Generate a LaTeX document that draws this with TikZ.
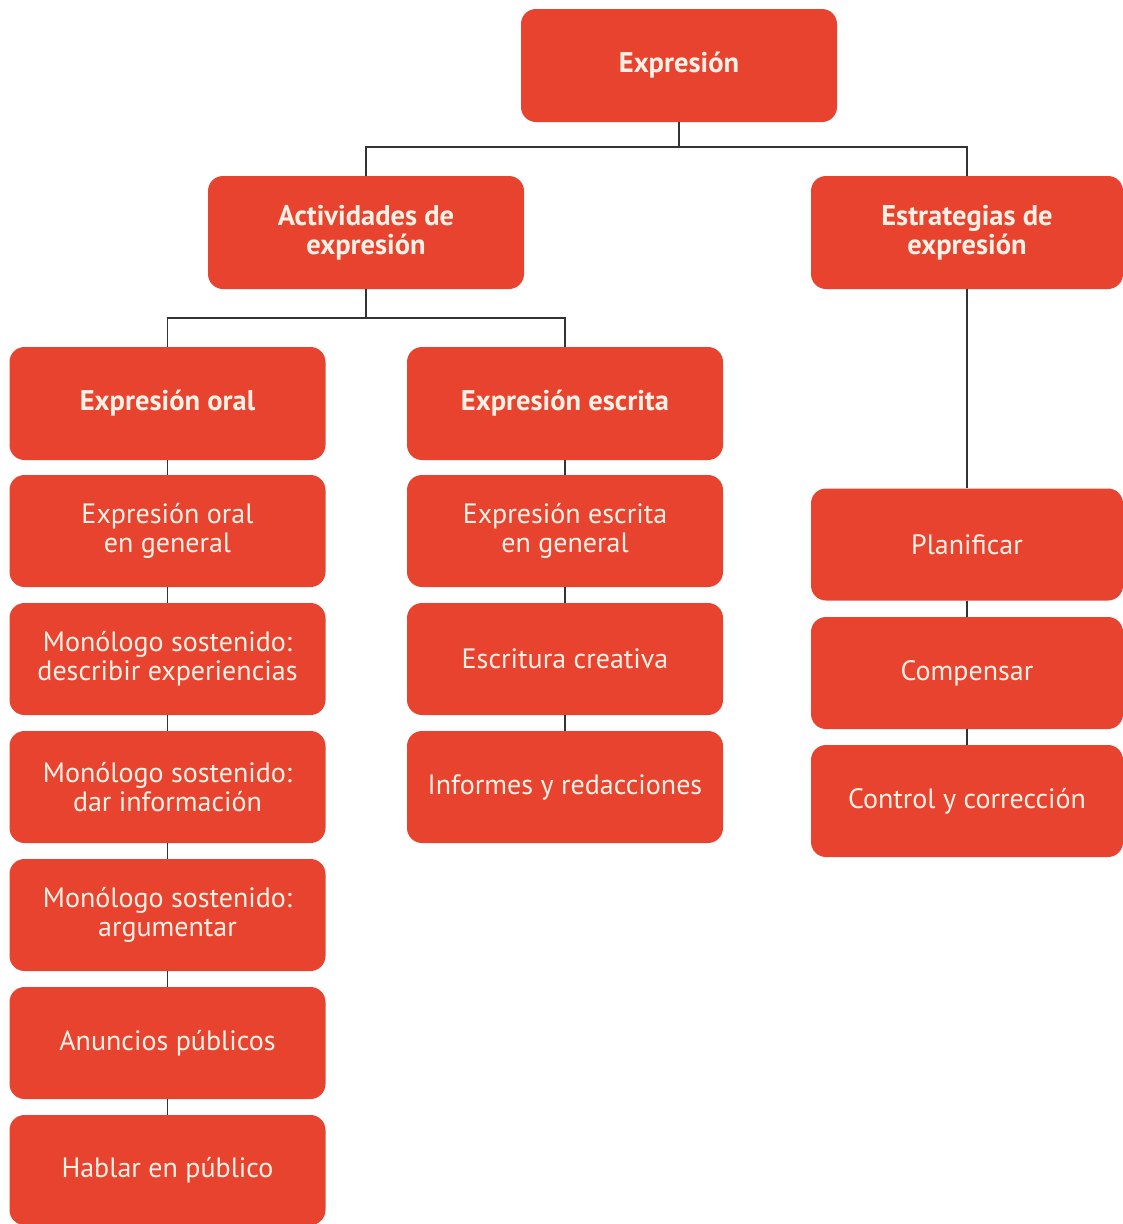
\documentclass[tikz,border=0pt]{standalone}
\usepackage{fontspec}
\setmainfont{PT Sans}
\definecolor{boxred}{HTML}{E8432F}
\definecolor{boxtext}{HTML}{FFF1E6}
\definecolor{linegray}{HTML}{333333}
\tikzset{
  box/.style={rectangle, rounded corners=15pt, fill=boxred, text=boxtext,
    minimum width=316pt, minimum height=112pt, inner sep=0pt, align=center,
    font=\fontsize{28}{29}\selectfont},
  headbox/.style={box, font=\bfseries\fontsize{28.5}{29}\selectfont},
  conn/.style={draw=linegray, line width=1.8pt}
}
\begin{document}
\begin{tikzpicture}[x=1pt,y=-1pt]
\useasboundingbox (0,0) rectangle (1123,1224);
\begin{scope}
\clip (0,0) rectangle (1123,1224);
% top
\node[headbox, minimum height=113pt] (top) at (679,65.5) {Expresión};
\node[headbox, minimum height=113pt] (act) at (366,232.5) {Actividades de\\expresión};
\node[headbox, minimum height=113pt, minimum width=312pt] (est) at (967,232.5) {Estrategias de\\expresión};
% level 2
\node[headbox, minimum height=113pt] (oral) at (167.5,403.5) {Expresión oral};
\node[headbox, minimum height=113pt] (esc) at (565,403.5) {Expresión escrita};
% oral column
\node[box] (o1) at (167.5,531) {Expresión oral\\en general};
\node[box] (o2) at (167.5,659) {Monólogo sostenido:\\describir experiencias};
\node[box] (o3) at (167.5,787) {Monólogo sostenido:\\dar información};
\node[box] (o4) at (167.5,915) {Monólogo sostenido:\\argumentar};
\node[box] (o5) at (167.5,1043) {Anuncios públicos};
\node[box, minimum height=110pt] (o6) at (167.5,1170) {Hablar en público};
% escrita column
\node[box] (e1) at (565,531) {Expresión escrita\\en general};
\node[box] (e2) at (565,659) {Escritura creativa};
\node[box] (e3) at (565,787) {Informes y redacciones};
% estrategias column
\node[box, minimum width=312pt] (s1) at (967,544.5) {Planificar};
\node[box, minimum width=312pt] (s2) at (967,673) {Compensar};
\node[box, minimum width=312pt] (s3) at (967,801) {Control y corrección};
\end{scope}
% connectors
\draw[conn] (top.south) -- ++(0,25) coordinate (tj);
\draw[conn] (act.north) |- (tj) -| (est.north);
\draw[conn] (act.south) -- ++(0,29) coordinate (aj);
\draw[conn] (oral.north) |- (aj) -| (esc.north);
\draw[conn] (est.south) -- (s1.north);
\draw[conn] (oral.south) -- (o1.north);
\draw[conn] (o1.south) -- (o2.north);
\draw[conn] (o2.south) -- (o3.north);
\draw[conn] (o3.south) -- (o4.north);
\draw[conn] (o4.south) -- (o5.north);
\draw[conn] (o5.south) -- (o6.north);
\draw[conn] (esc.south) -- (e1.north);
\draw[conn] (e1.south) -- (e2.north);
\draw[conn] (e2.south) -- (e3.north);
\draw[conn] (s1.south) -- (s2.north);
\draw[conn] (s2.south) -- (s3.north);
\end{tikzpicture}
\end{document}
